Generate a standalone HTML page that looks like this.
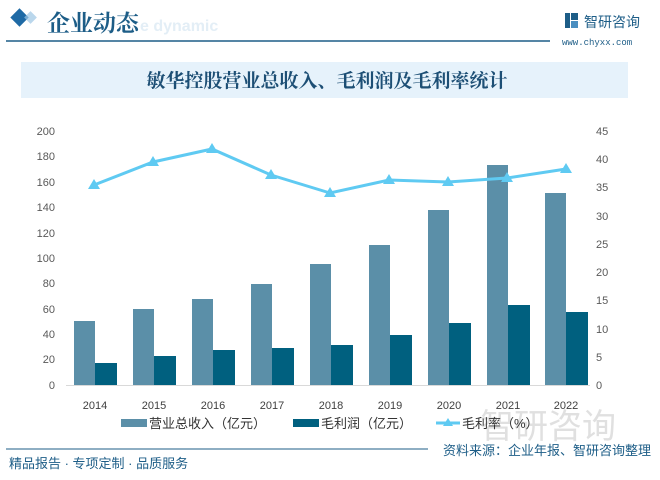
<!DOCTYPE html>
<html><head><meta charset="utf-8"><style>
body{margin:0;width:660px;height:475px;background:#fff;overflow:hidden;font-family:"Liberation Sans","Noto Sans CJK SC",sans-serif}
</style></head><body>
<svg width="660" height="475" xmlns="http://www.w3.org/2000/svg" font-family="Liberation Sans, Noto Sans CJK SC, sans-serif">
<rect x="13" y="11" width="13" height="13" transform="rotate(45 19.5 17.5)" fill="#1f6aa5"/>
<rect x="26" y="13" width="9" height="9" transform="rotate(45 30.5 17.5)" fill="#9cc6e4" opacity="0.7"/>
<text x="140" y="31" font-size="16" font-weight="bold" fill="#e3eef6">e dynamic</text>
<text x="47" y="31" font-size="23" fill="#1d5d87" font-family="Noto Serif CJK SC, serif" font-weight="bold">企业动态</text>
<line x1="6" y1="41" x2="550" y2="41" stroke="#1d5d87" stroke-width="1.5"/>
<rect x="565" y="13" width="5" height="15" fill="#1d5d87"/><rect x="571" y="13" width="7" height="7" fill="#1d5d87"/><rect x="571" y="21" width="7" height="7" fill="#4a8ec0"/>
<text x="584" y="27" font-size="14" fill="#1d5d87">智研咨询</text>
<text x="562" y="45" font-size="9" fill="#1d5d87" font-family="Liberation Mono, monospace">www.chyxx.com</text>
<rect x="21" y="62" width="607" height="36" fill="#e6f2fb"/>
<text x="327" y="87" font-size="19" font-weight="bold" fill="#1d4f75" text-anchor="middle" font-family="Noto Serif CJK SC, serif">敏华控股营业总收入、毛利润及毛利率统计</text>
<g font-size="11" fill="#595959" text-anchor="end">
<text x="55" y="135">200</text><text x="55" y="160">180</text><text x="55" y="186">160</text><text x="55" y="211">140</text><text x="55" y="237">120</text><text x="55" y="262">100</text><text x="55" y="287">80</text><text x="55" y="313">60</text><text x="55" y="338">40</text><text x="55" y="363">20</text><text x="55" y="389">0</text>
</g>
<g font-size="11" fill="#595959" text-anchor="start">
<text x="596" y="135">45</text><text x="596" y="163">40</text><text x="596" y="191">35</text><text x="596" y="220">30</text><text x="596" y="248">25</text><text x="596" y="276">20</text><text x="596" y="304">15</text><text x="596" y="333">10</text><text x="596" y="361">5</text><text x="596" y="389">0</text>
</g>
<line x1="66" y1="385.5" x2="590" y2="385.5" stroke="#d9d9d9"/>
<g fill="#5b8fa8">
<rect x="74" y="321" width="21" height="64"/><rect x="133" y="309" width="21" height="76"/><rect x="192" y="299" width="21" height="86"/><rect x="251" y="284" width="21" height="101"/><rect x="310" y="264" width="21" height="121"/><rect x="369" y="245" width="21" height="140"/><rect x="428" y="210" width="21" height="175"/><rect x="487" y="165" width="21" height="220"/><rect x="545" y="193" width="21" height="192"/>
</g>
<g fill="#00607f">
<rect x="95" y="363" width="22" height="22"/><rect x="154" y="356" width="22" height="29"/><rect x="213" y="350" width="22" height="35"/><rect x="272" y="348" width="22" height="37"/><rect x="331" y="345" width="22" height="40"/><rect x="390" y="335" width="22" height="50"/><rect x="449" y="323" width="22" height="62"/><rect x="508" y="305" width="22" height="80"/><rect x="566" y="312" width="22" height="73"/>
</g>
<polyline points="94,185 153,162 212,149 271,175 330,193 389,180 448,182 507,178 566,169" fill="none" stroke="#5fcaf2" stroke-width="3"/>
<g fill="#5fcaf2">
<path d="M94,179 L100,189 L88,189Z"/><path d="M153,156 L159,166 L147,166Z"/><path d="M212,143 L218,153 L206,153Z"/><path d="M271,169 L277,179 L265,179Z"/><path d="M330,187 L336,197 L324,197Z"/><path d="M389,174 L395,184 L383,184Z"/><path d="M448,176 L454,186 L442,186Z"/><path d="M507,172 L513,182 L501,182Z"/><path d="M566,163 L572,173 L560,173Z"/>
</g>
<g font-size="11" fill="#404040" text-anchor="middle">
<text x="95" y="409">2014</text><text x="154" y="409">2015</text><text x="213" y="409">2016</text><text x="272" y="409">2017</text><text x="331" y="409">2018</text><text x="390" y="409">2019</text><text x="449" y="409">2020</text><text x="508" y="409">2021</text><text x="566" y="409">2022</text>
</g>
<text x="480" y="438" font-size="34" fill="#e0e0e0">智研咨询</text>
<rect x="121" y="419" width="26" height="8" fill="#5b8fa8"/>
<text x="149" y="428" font-size="13" fill="#333">营业总收入（亿元）</text>
<rect x="293" y="419" width="26" height="8" fill="#00607f"/>
<text x="321" y="428" font-size="13" fill="#333">毛利润（亿元）</text>
<line x1="436" y1="423" x2="460" y2="423" stroke="#5fcaf2" stroke-width="3"/>
<path d="M448,418 L453,426 L443,426Z" fill="#5fcaf2"/>
<text x="462" y="428" font-size="13" fill="#333">毛利率（%）</text>
<line x1="6" y1="449" x2="428" y2="449" stroke="#1d5d87" stroke-width="1"/>
<text x="443" y="455" font-size="13" fill="#1d5d87">资料来源：企业年报、智研咨询整理</text>
<text x="9" y="468" font-size="13" fill="#1d5d87">精品报告 · 专项定制 · 品质服务</text>
</svg>
</body></html>
